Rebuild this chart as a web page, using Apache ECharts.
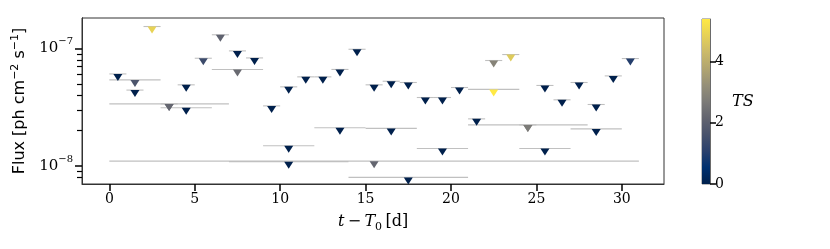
<!DOCTYPE html>
<html>
<head>
<meta charset="utf-8">
<script src="https://cdn.jsdelivr.net/npm/echarts@6/dist/echarts.min.js"></script>
<style>
html,body{margin:0;padding:0;background:#fff;}
#chart{width:830px;height:249px;}
</style>
</head>
<body>
<div id="chart"></div>
<script>
// ---- data ----
// daily bins
const dailyCenter = [0.5,1.5,2.5,3.5,4.5,5.5,6.5,7.5,8.5,9.5,10.5,11.5,12.5,13.5,14.5,15.5,16.5,17.5,18.5,19.5,20.5,21.5,22.5,23.5,24.5,25.5,26.5,27.5,28.5,29.5,30.5];
const dailyFlux = [6.08e-8,4.43e-8,1.54e-7,3.38e-8,4.91e-8,8.27e-8,1.31e-7,9.55e-8,8.32e-8,3.25e-8,4.72e-8,5.74e-8,5.74e-8,6.64e-8,9.86e-8,4.91e-8,5.27e-8,5.14e-8,3.83e-8,3.83e-8,4.66e-8,2.52e-8,7.91e-8,8.89e-8,2.24e-8,4.85e-8,3.66e-8,5.14e-8,3.34e-8,5.85e-8,8.22e-8];
const dailyTS = [0,0,4.9,2.2,0,1.4,2.1,0,0,0,0,0,0,0,0,0,0,0,0,0,0,0,2.9,4.7,2.7,0,0,0,0,0,1.0];
const dailyHalfWidth = 0.5;
// 3-day bins
const threeDayCenter = [1.5,4.5,7.5,10.5,13.5,16.5,19.5,22.5,25.5,28.5];
const threeDayFlux = [5.41e-8,3.13e-8,6.64e-8,1.49e-8,2.12e-8,2.09e-8,1.41e-8,4.49e-8,1.41e-8,2.07e-8];
const threeDayTS = [1.7,0,2.3,0,0,0,0,5.39,0,0];
const threeDayHalfWidth = 1.5;
// weekly bins
const weekCenter = [3.5,10.5,17.5,24.5];
const weekFlux = [3.38e-8,1.09e-8,8.0e-9,2.24e-8];
const weekTS = [2.2,0,0,2.7];
const weekHalfWidth = 3.5;
// full period
const monthCenter = [15.5];
const monthFlux = [1.10e-8];
const monthTS = [2.2];
const monthHalfWidth = 15.5;

const xTicks = [0,5,10,15,20,25,30];
const yMajorExp = [-8,-7];
const yMinorFlux = [8e-9,9e-9,2e-8,3e-8,4e-8,5e-8,6e-8,7e-8,8e-8,9e-8];
const tsTicks = [0,2,4];
const tsMax = 5.39;

const cividis = ['#00204c','#00306f','#2a406c','#48526b','#62646f','#7c7b78','#958f78','#b1a570','#cbba69','#e6d157','#ffe945'];

// ---- build ----
const groups = [
  [dailyCenter, dailyFlux, dailyTS, dailyHalfWidth],
  [threeDayCenter, threeDayFlux, threeDayTS, threeDayHalfWidth],
  [weekCenter, weekFlux, weekTS, weekHalfWidth],
  [monthCenter, monthFlux, monthTS, monthHalfWidth]
];
const errData = [], ptData = [];
groups.forEach(g => {
  g[0].forEach((c, i) => {
    const ly = Math.log10(g[1][i]);
    errData.push([c - g[3], c + g[3], ly]);
    ptData.push([c, ly, g[2][i]]);
  });
});

const serif = '"DejaVu Serif", "Liberation Serif", serif';
const frame = '#333';
const chart = echarts.init(document.getElementById('chart'));
chart.setOption({
  animation: false,
  backgroundColor: '#fff',
  grid: [
    {left: 82, top: 18, width: 582, height: 166, show: true, borderColor: frame, borderWidth: 1, backgroundColor: 'transparent'},
    {left: 702, top: 19, width: 8, height: 165, show: true, borderColor: '#555', borderWidth: 0.8, backgroundColor: 'transparent'}
  ],
  visualMap: {
    type: 'continuous', show: false, min: 0, max: tsMax, dimension: 2, seriesIndex: 1,
    inRange: {color: cividis}
  },
  xAxis: [
    {
      type: 'value', gridIndex: 0, min: -1.6, max: 32.47,
      axisLine: {show: true, onZero: false, lineStyle: {color: frame, width: 1}},
      axisTick: {show: true, length: 7, customValues: xTicks, lineStyle: {color: '#000', width: 1.5}},
      axisLabel: {customValues: xTicks, fontFamily: serif, fontSize: 14, color: '#000', margin: 8},
      splitLine: {show: false},
      name: '{i|t} {n|−} {i|T}{sub|0} {n|[d]}',
      nameLocation: 'middle', nameGap: 27,
      nameTextStyle: {
        rich: {
          i: {fontFamily: serif, fontStyle: 'italic', fontSize: 16, color: '#000', lineHeight: 22},
          n: {fontFamily: serif, fontSize: 16, color: '#000', lineHeight: 22},
          sub: {fontFamily: serif, fontSize: 11, color: '#000', lineHeight: 12, verticalAlign: 'bottom'}
        }
      }
    },
    {type: 'category', gridIndex: 1, data: ['cb'], show: false, boundaryGap: false}
  ],
  yAxis: [
    {
      type: 'value', gridIndex: 0, min: -8.153, max: -6.740,
      axisLine: {show: true, onZero: false, lineStyle: {color: frame, width: 1}},
      axisTick: {show: true, length: 7, customValues: yMajorExp, lineStyle: {color: '#000', width: 1.5}},
      axisLabel: {
        customValues: yMajorExp, margin: 9,
        formatter: v => '{b|10}{s|−' + Math.abs(Math.round(v)) + '}',
        rich: {
          b: {fontFamily: serif, fontSize: 15, color: '#000', lineHeight: 24},
          s: {fontFamily: serif, fontSize: 10, color: '#000', lineHeight: 12, verticalAlign: 'top'}
        }
      },
      splitLine: {show: false},
      name: '{n|Flux [ph cm}{s|−2}{n| s}{s|−1}{n|]}',
      nameLocation: 'middle', nameGap: 44, nameRotate: 90,
      nameTextStyle: {
        rich: {
          n: {fontFamily: '"DejaVu Sans", sans-serif', fontSize: 16, color: '#000', lineHeight: 22},
          s: {fontFamily: '"DejaVu Sans", sans-serif', fontSize: 11, color: '#000', lineHeight: 12, verticalAlign: 'top'}
        }
      }
    },
    {
      type: 'value', gridIndex: 0, min: -8.153, max: -6.740, position: 'left',
      axisLine: {show: true, onZero: false, lineStyle: {color: frame, width: 1}},
      axisTick: {show: true, length: 5, customValues: yMinorFlux.map(v => Math.log10(v)), lineStyle: {color: '#000', width: 1.2}},
      axisLabel: {show: false},
      splitLine: {show: false}
    },
    {
      type: 'value', gridIndex: 1, min: 0, max: tsMax, position: 'right',
      axisLine: {show: true, onZero: false, lineStyle: {color: '#555', width: 0.8}},
      axisTick: {show: true, length: 6, customValues: tsTicks, lineStyle: {color: '#000', width: 1.5}},
      axisLabel: {customValues: tsTicks, fontFamily: serif, fontSize: 14, color: '#000', margin: 5},
      splitLine: {show: false},
      name: 'TS', nameLocation: 'middle', nameRotate: 0, nameGap: 22,
      nameTextStyle: {fontFamily: serif, fontStyle: 'italic', fontSize: 16, color: '#000', align: 'left', padding: [0, 0, 8, 0]}
    }
  ],
  series: [
    {
      type: 'custom', xAxisIndex: 0, yAxisIndex: 0, z: 1, silent: true,
      encode: {x: [0, 1], y: 2},
      data: errData,
      renderItem: (params, api) => {
        const p1 = api.coord([api.value(0), api.value(2)]);
        const p2 = api.coord([api.value(1), api.value(2)]);
        return {type: 'line', shape: {x1: p1[0], y1: p1[1], x2: p2[0], y2: p2[1]},
                style: {stroke: '#c0c0c0', lineWidth: 1.1}};
      }
    },
    {
      type: 'scatter', xAxisIndex: 0, yAxisIndex: 0, z: 3,
      symbol: 'path://M0,0 L10,0 L5,8 Z', symbolSize: [9, 7], symbolOffset: [0, 3.5],
      itemStyle: {opacity: 1},
      data: ptData
    },
    {
      type: 'bar', xAxisIndex: 1, yAxisIndex: 2, barWidth: '100%', silent: true,
      data: [tsMax],
      itemStyle: {
        color: {type: 'linear', x: 0, y: 1, x2: 0, y2: 0,
                colorStops: cividis.map((c, i) => ({offset: i / (cividis.length - 1), color: c}))}
      }
    }
  ]
});
</script>
</body>
</html>
